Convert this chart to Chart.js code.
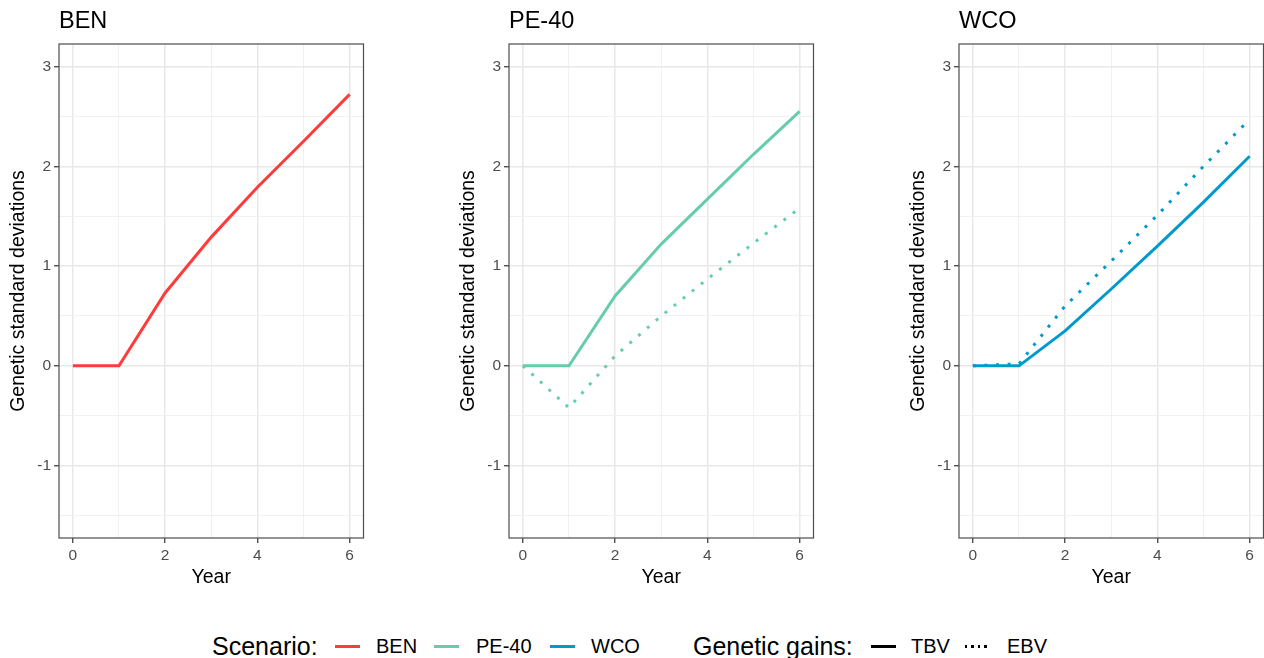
<!DOCTYPE html>
<html>
<head>
<meta charset="utf-8">
<script src="https://cdn.jsdelivr.net/npm/chart.js@4.4.1/dist/chart.umd.min.js"></script>
<style>
  html, body { margin: 0; padding: 0; background: #fff; overflow: hidden; }
  #wrap { position: relative; width: 1264px; height: 658px; overflow: hidden;
          font-family: "Liberation Sans", Arial, sans-serif; }
  .panel { position: absolute; top: 0; width: 400px; height: 600px; }
  .leg { position: absolute; white-space: nowrap; color: #000; line-height: 1; }
  .key { position: absolute; height: 2.5px; width: 25px; }
</style>
</head>
<body>
<div id="wrap">
  <div class="panel" style="left:0px"><canvas id="c0" width="400" height="600"></canvas></div>
  <div class="panel" style="left:450px"><canvas id="c1" width="400" height="600"></canvas></div>
  <div class="panel" style="left:900px"><canvas id="c2" width="400" height="600"></canvas></div>

  <div class="leg" style="left:212px;top:634px;font-size:25px">Scenario:</div>
  <div class="key" style="left:335px;top:645px;background:#FF3B3B"></div>
  <div class="leg" style="left:376px;top:636px;font-size:20px">BEN</div>
  <div class="key" style="left:434px;top:645px;background:#66CDAA"></div>
  <div class="leg" style="left:476px;top:636px;font-size:20px">PE-40</div>
  <div class="key" style="left:550px;top:645px;background:#009ACD"></div>
  <div class="leg" style="left:591px;top:636px;font-size:20px">WCO</div>

  <div class="leg" style="left:693px;top:634px;font-size:25px">Genetic gains:</div>
  <div class="key" style="left:871px;top:645px;background:#000"></div>
  <div class="leg" style="left:911px;top:636px;font-size:20px">TBV</div>
  <div class="key" style="left:965px;top:645px;width:24px;background:repeating-linear-gradient(to right,#000 0 2.5px,transparent 2.5px 6.5px)"></div>
  <div class="leg" style="left:1007px;top:636px;font-size:20px">EBV</div>
</div>

<script>
// genetic gain per year, in genetic standard deviations
const years = [0, 1, 2, 3, 4, 5, 6];
const benTBV  = [0, 0, 0.73, 1.29, 1.79, 2.25, 2.72];
const pe40TBV = [0, 0, 0.70, 1.22, 1.67, 2.12, 2.55];
const pe40EBV = [0, -0.42, 0.10, 0.50, 0.87, 1.23, 1.58];
const wcoTBV  = [0, 0, 0.35, 0.77, 1.20, 1.64, 2.10];
const wcoEBV  = [0, 0.02, 0.60, 1.05, 1.51, 2.00, 2.47];

const scenarios = ['BEN', 'PE-40', 'WCO'];
const scenarioColors = ['#FF3B3B', '#66CDAA', '#009ACD'];

const xTicks = [0, 1, 2, 3, 4, 5, 6];
const xLabels = [0, 2, 4, 6];
const yTicks = [-1.5, -1, -0.5, 0, 0.5, 1, 1.5, 2, 2.5, 3];
const yLabels = [-1, 0, 1, 2, 3];

const FONT = "'Liberation Sans', Arial, sans-serif";
Chart.defaults.font.family = FONT;

const toPoints = arr => years.map((x, i) => ({ x: x, y: arr[i] }));

// panel border + facet title
const framePlugin = {
  id: 'frame',
  afterDraw(chart, args, opts) {
    const { ctx, chartArea: a } = chart;
    ctx.save();
    ctx.strokeStyle = '#4d4d4d';
    ctx.lineWidth = 1.2;
    ctx.strokeRect(a.left, a.top, a.right - a.left, a.bottom - a.top);
    ctx.fillStyle = '#000';
    ctx.font = '23.5px ' + FONT;
    ctx.textBaseline = 'alphabetic';
    ctx.fillText(opts.text, a.left, 28);
    ctx.restore();
  }
};

function gridOpts(isMinor) {
  return {
    color: c => isMinor(c.tick.value) ? '#efefef' : '#e8e8e8',
    lineWidth: c => isMinor(c.tick.value) ? 0.9 : 1.5,
    tickLength: 5,
    tickWidth: 1.2,
    tickColor: c => isMinor(c.tick.value) ? 'rgba(0,0,0,0)' : '#333333'
  };
}

function makeChart(id, idx, tbv, ebv) {
  const color = scenarioColors[idx];
  const datasets = [{
    data: toPoints(tbv), borderColor: color, borderWidth: 3,
    pointRadius: 0, tension: 0
  }];
  if (ebv) {
    datasets.push({
      data: toPoints(ebv), borderColor: color, borderWidth: 3,
      borderDash: [3, 8.6], pointRadius: 0, tension: 0
    });
  }

  new Chart(document.getElementById(id), {
    type: 'line',
    data: { datasets: datasets },
    plugins: [framePlugin],
    options: {
      responsive: false,
      animation: false,
      events: [],
      layout: { padding: { top: 44, right: 36.5, left: 0, bottom: 0 } },
      plugins: {
        legend: { display: false },
        tooltip: { enabled: false },
        frame: { text: scenarios[idx] }
      },
      scales: {
        x: {
          type: 'linear', min: -0.3, max: 6.3, bounds: 'data',
          afterBuildTicks: s => { s.ticks = xTicks.map(v => ({ value: v })); },
          afterFit: s => { s.height = 62; },
          ticks: {
            autoSkip: false, maxRotation: 0, padding: 3,
            color: '#4d4d4d', font: { size: 15.5 },
            callback: v => xLabels.includes(v) ? String(v) : ''
          },
          grid: gridOpts(v => v % 2 !== 0),
          border: { display: false },
          title: {
            display: true, text: 'Year', color: '#000',
            font: { size: 19.5 }, padding: { top: 0, bottom: 11 }
          }
        },
        y: {
          type: 'linear', min: -1.725, max: 3.225, bounds: 'data',
          afterBuildTicks: s => { s.ticks = yTicks.map(v => ({ value: v })); },
          afterFit: s => { s.width = 59; },
          ticks: {
            autoSkip: false, padding: 3,
            color: '#4d4d4d', font: { size: 15.5 },
            callback: v => yLabels.includes(v) ? String(v) : ''
          },
          grid: gridOpts(v => !Number.isInteger(v)),
          border: { display: false },
          title: {
            display: true, text: 'Genetic standard deviations', color: '#000',
            font: { size: 19.5 }, padding: { top: 7, bottom: 0 }
          }
        }
      }
    }
  });
}

makeChart('c0', 0, benTBV, null);
makeChart('c1', 1, pe40TBV, pe40EBV);
makeChart('c2', 2, wcoTBV, wcoEBV);
</script>
</body>
</html>
